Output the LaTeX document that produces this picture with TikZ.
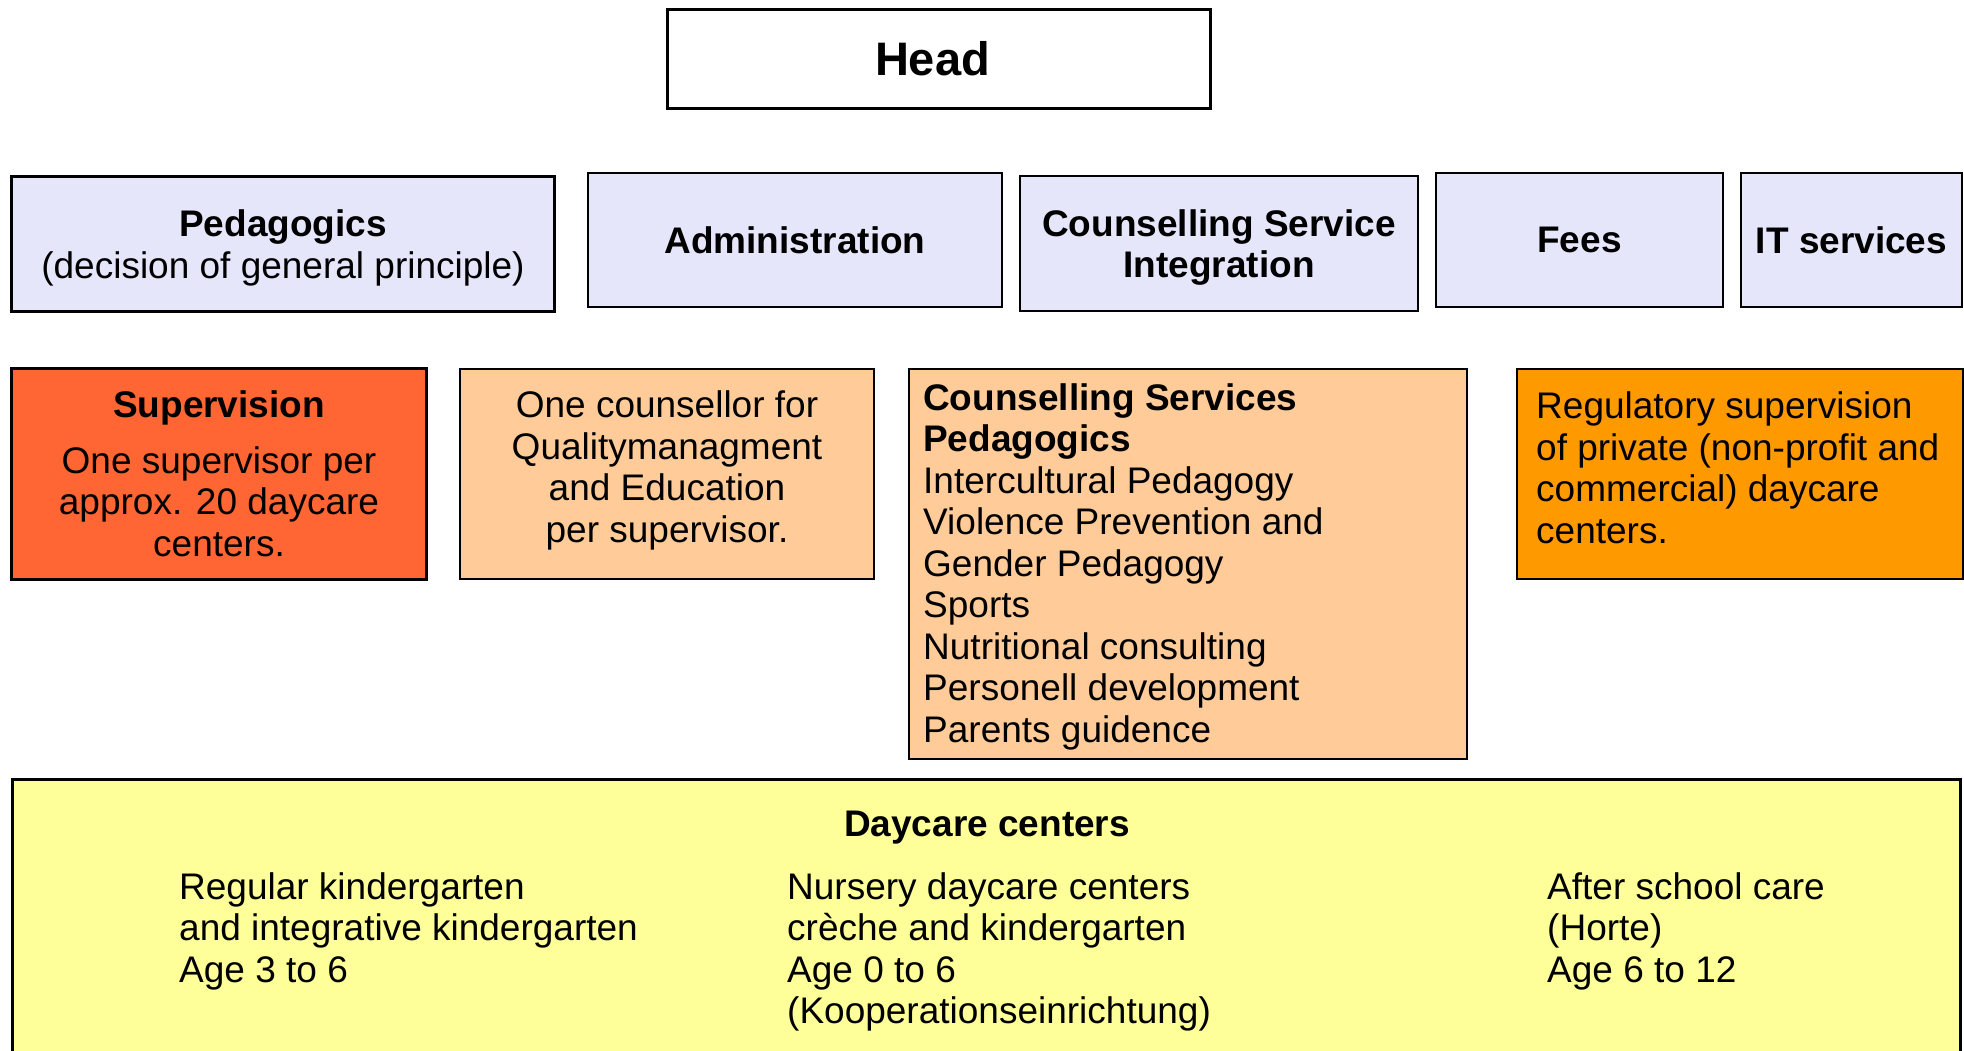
\documentclass[tikz,border=0pt]{standalone}
\usepackage{fontspec}
\setmainfont{Liberation Sans}
\definecolor{lav}{HTML}{E6E6FA}
\definecolor{supred}{HTML}{FF6633}
\definecolor{peach}{HTML}{FFCC99}
\definecolor{orng}{HTML}{FF9900}
\definecolor{yel}{HTML}{FFFF99}
\begin{document}
\begin{tikzpicture}[x=1pt,y=-1pt,
  box/.style={draw=black, line width=2pt, inner sep=0pt, align=center,
    font=\fontsize{37}{41.5}\selectfont},
  heavy/.style={line width=3pt},
  txt/.style={inner sep=0pt, font=\fontsize{37}{41.5}\selectfont}]
\useasboundingbox (0,0) rectangle (1964,1050);
\clip (0,0) rectangle (1964,1050);
% Head
\node[box, heavy, fill=white, minimum width=543pt, minimum height=99pt,
  font=\fontsize{47}{52}\selectfont\bfseries] (head) at (938.5,58.5) {Head\hspace{12pt}};
% Row 2
\node[box, heavy, fill=lav, minimum width=543pt, minimum height=135pt, text depth=0pt] (ped) at (283,244)
  {\textbf{Pedagogics}\\(decision of general principle)};
\node[box, fill=lav, minimum width=414pt, minimum height=134pt] (adm) at (795,240)
  {\textbf{Administration}};
\node[box, fill=lav, minimum width=398pt, minimum height=135pt, text depth=0pt] (csi) at (1219,243.5)
  {\textbf{Counselling Service}\\\textbf{Integration}};
\node[box, fill=lav, minimum width=287pt, minimum height=134pt] (fees) at (1579.5,240)
  {\textbf{Fees}};
\node[box, fill=lav, minimum width=221pt, minimum height=134pt] (its) at (1851.5,240)
  {\textbf{IT services}};
% Row 3
\node[box, heavy, fill=supred, minimum width=415pt, minimum height=211pt] (sup) at (219,474) {};
\node[txt, align=center] (suptxt) at (219,474)
  {\textbf{Supervision}\\[14pt]One supervisor per\\approx. 20 daycare\\centers.};
\node[box, fill=peach, minimum width=414pt, minimum height=210pt] (cns) at (667,474) {};
\node[txt, align=center] (cnstxt) at (667,470.5)
  {One counsellor for\\Qualitymanagment\\and Education\\per supervisor.};
\node[box, fill=peach, minimum width=558pt, minimum height=390pt] (csp) at (1188,564) {};
\node[txt, align=left, anchor=north west] (csptxt) at (923,383)
  {\textbf{Counselling Services}\\\textbf{Pedagogics}\\Intercultural Pedagogy\\Violence Prevention and\\Gender Pedagogy\\Sports\\Nutritional consulting\\Personell development\\Parents guidence};
\node[box, fill=orng, minimum width=446pt, minimum height=210pt] (reg) at (1740,474) {};
\node[txt, align=left, anchor=north west] (regtxt) at (1536,391.5)
  {Regulatory supervision\\of private (non-profit and\\commercial) daycare\\centers.};
% Daycare centers
\node[box, heavy, fill=yel, minimum width=1948pt, minimum height=300pt, anchor=north] (day) at (986.5,777.5) {};
\node[txt, font=\fontsize{37}{41.5}\selectfont\bfseries] (daytitle) at (987,828) {Daycare centers};
\node[txt, align=left, anchor=north west] (col1) at (179,872)
  {Regular kindergarten\\and integrative kindergarten\\Age 3 to 6};
\node[txt, align=left, anchor=north west] (col2) at (787,872)
  {Nursery daycare centers\\crèche and kindergarten\\Age 0 to 6\\(Kooperationseinrichtung)};
\node[txt, align=left, anchor=north west] (col3) at (1547,872)
  {After school care\\(Horte)\\Age 6 to 12};
\end{tikzpicture}
\end{document}
